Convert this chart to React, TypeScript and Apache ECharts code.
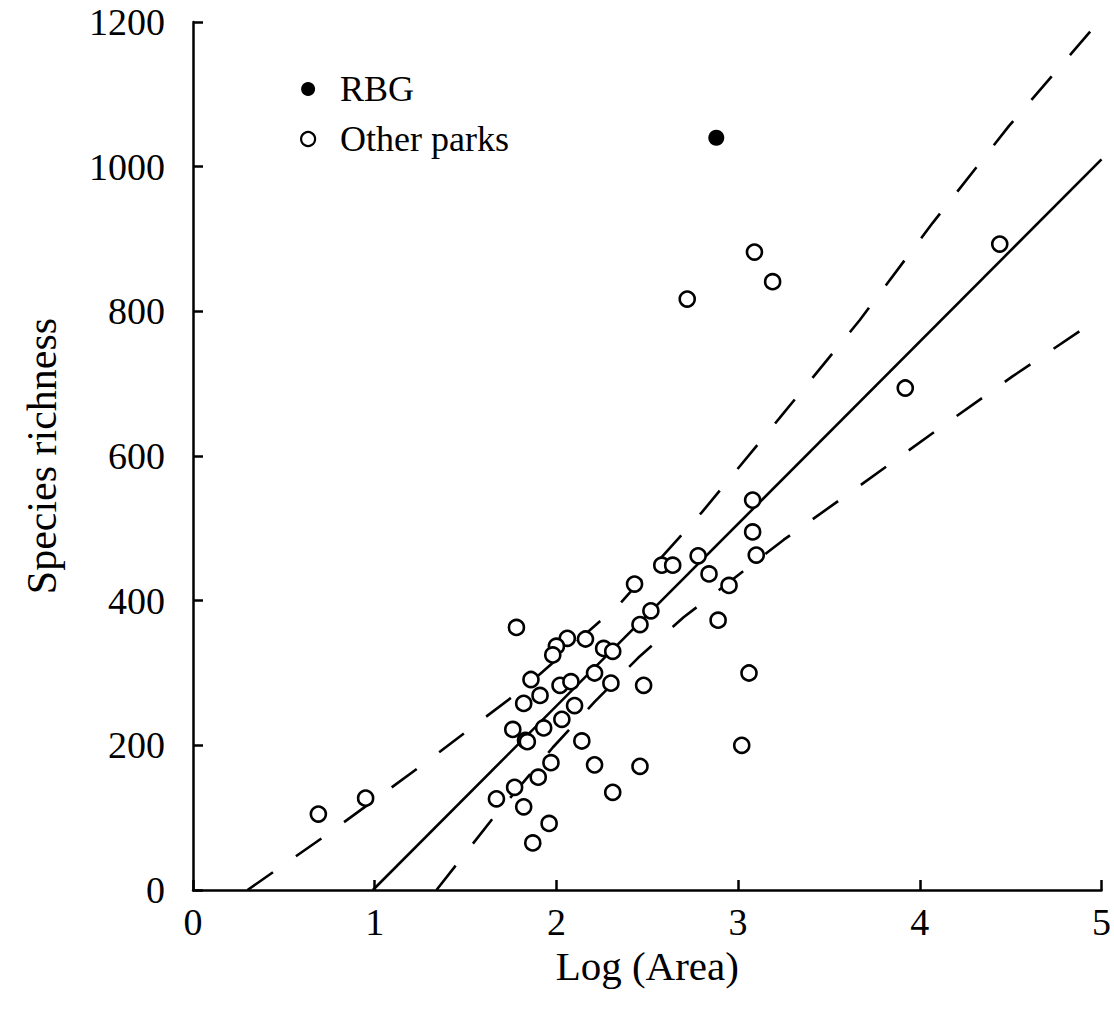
import React, { useEffect, useRef } from "react";
import * as echarts from "echarts";

// Other parks: log(area) and species richness
const parkX = [
  0.69, 0.95, 2.58, 2.64, 2.78, 3.10, 2.84, 2.95, 2.43, 2.52, 2.46, 2.89,
  1.78, 2.06, 2.00, 2.16, 1.98, 2.26, 2.31, 2.21, 3.06, 1.86, 2.02, 2.08,
  2.30, 2.48, 1.91, 1.82, 2.10, 2.03, 1.93, 1.76, 1.83, 1.84, 2.14, 3.02,
  1.97, 2.21, 2.46, 1.90, 1.77, 1.67, 1.82, 2.31, 1.96, 1.87, 2.72, 3.09,
  3.19, 4.44, 3.92, 3.08, 3.08,
];
const parkY = [
  105, 127, 449, 449, 462, 463, 437, 421, 423, 386, 367, 373,
  363, 348, 337, 347, 325, 334, 330, 300, 300, 291, 283, 288,
  286, 283, 269, 258, 255, 236, 224, 222, 207, 205, 206, 200,
  176, 173, 171, 156, 142, 126, 115, 135, 92, 65, 817, 882,
  841, 893, 694, 539, 495,
];

// RBG
const rbgX = [2.88];
const rbgY = [1040];

// Regression line (end points)
const fitX = [0.99, 5.0];
const fitY = [0, 1010];

// Upper dashed band
const upperX = [0.30, 0.74, 1.29, 1.83, 2.35, 2.80, 3.23, 3.67, 4.07, 4.49, 5.0];
const upperY = [0, 77, 178, 281, 396, 522, 653, 788, 922, 1056, 1205];

// Lower dashed band
const lowerX = [1.34, 1.65, 1.98, 2.21, 2.45, 2.70, 2.85, 3.25, 3.67, 4.09, 4.51, 4.93, 5.0];
const lowerY = [0, 99, 197, 260, 321, 377, 406, 484, 559, 635, 710, 781, 793];

const xTicks = { min: 0, max: 5, interval: 1 };
const yTicks = { min: 0, max: 1200, interval: 200 };

const pairs = (xs: number[], ys: number[]) => xs.map((x, i) => [x, ys[i]]);

const FONT = "Liberation Serif";

export default function App() {
  const ref = useRef<HTMLDivElement>(null);

  useEffect(() => {
    if (!ref.current) return;
    const chart = echarts.init(ref.current, null, { renderer: "svg" });
    const axisCommon = {
      type: "value" as const,
      nameLocation: "middle" as const,
      axisLine: { show: true, onZero: false, lineStyle: { color: "#000", width: 2.5 } },
      axisTick: { show: true, inside: true, length: 10, lineStyle: { color: "#000", width: 2.5 } },
      splitLine: { show: false },
    };
    const bandStyle = { color: "#000", width: 2.6, type: [31, 28] };
    chart.setOption({
      animation: false,
      backgroundColor: "#fff",
      grid: { left: 193, right: 12, top: 22, bottom: 128, containLabel: false },
      xAxis: {
        ...axisCommon,
        ...xTicks,
        name: "Log (Area)",
        nameGap: 52,
        nameTextStyle: { color: "#000", fontSize: 41, fontFamily: FONT },
        axisLabel: {
          color: "#000",
          fontSize: 38,
          fontFamily: FONT,
          margin: 13,
          formatter: (v: number) => String(v),
        },
      },
      yAxis: {
        ...axisCommon,
        ...yTicks,
        name: "Species richness",
        nameGap: 130,
        nameTextStyle: { color: "#000", fontSize: 42, fontFamily: FONT },
        axisLabel: {
          color: "#000",
          fontSize: 38,
          fontFamily: FONT,
          margin: 28,
          formatter: (v: number) => String(v),
        },
      },
      legend: {
        orient: "vertical",
        left: 295,
        top: 66,
        itemWidth: 54,
        itemHeight: 14,
        itemGap: 14,
        icon: "circle",
        textStyle: { color: "#000", fontSize: 36, fontFamily: FONT },
        data: [
          { name: "RBG", itemStyle: { color: "#000", borderWidth: 0, opacity: 1 } },
          {
            name: "Other parks",
            itemStyle: { color: "#fff", borderColor: "#000", borderWidth: 2.2, opacity: 1 },
          },
        ],
      },
      series: [
        {
          name: "Upper band",
          type: "line",
          data: pairs(upperX, upperY),
          showSymbol: false,
          symbol: "none",
          clip: true,
          z: 1,
          lineStyle: bandStyle,
        },
        {
          name: "Lower band",
          type: "line",
          data: pairs(lowerX, lowerY),
          showSymbol: false,
          symbol: "none",
          clip: true,
          z: 1,
          lineStyle: bandStyle,
        },
        {
          name: "Fit",
          type: "line",
          data: pairs(fitX, fitY),
          showSymbol: false,
          symbol: "none",
          clip: true,
          z: 1,
          lineStyle: { color: "#000", width: 2.6 },
        },
        {
          name: "Other parks",
          type: "scatter",
          data: pairs(parkX, parkY),
          symbol: "circle",
          symbolSize: 15,
          z: 3,
          itemStyle: { color: "#fff", borderColor: "#000", borderWidth: 2.6, opacity: 1 },
        },
        {
          name: "RBG",
          type: "scatter",
          data: pairs(rbgX, rbgY),
          symbol: "circle",
          symbolSize: 16,
          z: 3,
          itemStyle: { color: "#000", opacity: 1 },
        },
      ],
    });
    return () => chart.dispose();
  }, []);

  return (
    <div
      ref={ref}
      style={{ position: "fixed", left: 0, top: 0, width: 1114, height: 1018, background: "#fff" }}
    />
  );
}
